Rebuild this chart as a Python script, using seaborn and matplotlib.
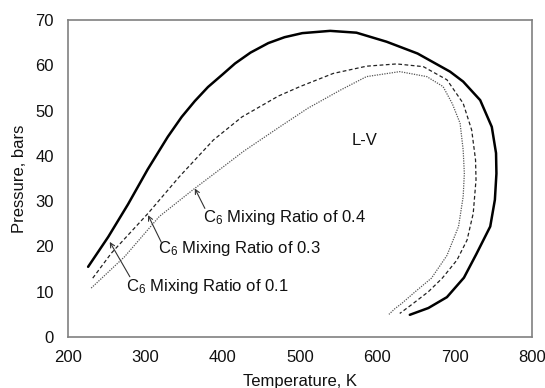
import matplotlib
matplotlib.use("Agg")
import matplotlib.pyplot as plt
import seaborn as sns
import pandas as pd

# Mixing ratio 0.1 (solid)
t_01 = [226, 252, 277.6, 303, 329, 347, 364, 381, 400, 416, 436, 459, 480, 503, 539, 573, 612, 652, 694, 711, 733, 748, 753.5, 754, 752, 746, 728, 712, 690, 666, 642]
p_01 = [15.5, 22.1, 29.3, 37.0, 44.2, 48.6, 52.1, 55.2, 58.0, 60.4, 62.8, 64.9, 66.2, 67.1, 67.6, 67.2, 65.2, 62.6, 58.6, 56.4, 52.3, 46.4, 40.6, 36.1, 30.3, 24.4, 18.3, 13.1, 8.8, 6.4, 4.9]
# Mixing ratio 0.3 (dashed)
t_03 = [232, 256, 303.5, 344, 388, 425, 472, 500, 543, 586, 625, 659.5, 690, 711, 722, 727, 727.6, 724, 716, 703, 684, 666, 644, 629]
p_03 = [13.0, 18.5, 27.3, 35.4, 43.5, 48.6, 53.2, 55.3, 58.2, 59.8, 60.3, 59.7, 56.8, 51.6, 45.7, 39.1, 34.7, 27.3, 21.4, 17.0, 13.0, 10.0, 7.1, 5.2]
# Mixing ratio 0.4 (dotted)
t_04 = [230, 273, 318, 363, 394, 427, 472, 510, 552, 586, 629, 664, 685, 697, 707, 711, 712.5, 711, 705, 690, 670, 649, 631.5, 623, 615]
p_04 = [10.8, 17.7, 26.6, 32.7, 36.7, 41.0, 46.2, 50.5, 54.5, 57.5, 58.6, 57.5, 55.3, 51.5, 47.2, 41.3, 36.1, 31.0, 24.4, 18.0, 13.0, 10.0, 7.4, 6.3, 5.0]

labels = ["C$_6$ Mixing Ratio of 0.1", "C$_6$ Mixing Ratio of 0.3", "C$_6$ Mixing Ratio of 0.4"]
text_pos = [(275, 11.1), (317, 19.6), (374, 26.3)]
arrow_tip = [(254, 21.0), (303.5, 26.9), (364, 32.8)]
arrow_tail = [(280, 13.3), (320.7, 20.9), (377, 28.4)]

x_ticks = [200, 300, 400, 500, 600, 700, 800]
y_ticks = [0, 10, 20, 30, 40, 50, 60, 70]

sns.set_theme(style="white")
plt.rcParams["font.family"] = ["Liberation Sans", "DejaVu Sans"]
plt.rcParams["mathtext.default"] = "regular"

fig = plt.figure(figsize=(5.45, 3.88), dpi=100)
ax = fig.add_axes([68/545, 1 - 337/388, (532-68)/545, (337-20)/388])

d1 = pd.DataFrame({"T": t_01, "P": p_01})
d3 = pd.DataFrame({"T": t_03, "P": p_03})
d4 = pd.DataFrame({"T": t_04, "P": p_04})
sns.lineplot(data=d1, x="T", y="P", sort=False, estimator=None, ax=ax, color="black", lw=1.8)
sns.lineplot(data=d3, x="T", y="P", sort=False, estimator=None, ax=ax, color="#222222", lw=0.9, linestyle=(0, (3, 2)))
sns.lineplot(data=d4, x="T", y="P", sort=False, estimator=None, ax=ax, color="#555555", lw=0.9, linestyle=(0, (1, 1)))

for lab, tp, tip, tail in zip(labels, text_pos, arrow_tip, arrow_tail):
    ax.text(tp[0], tp[1], lab, fontsize=12, color="#111111", va="center", ha="left")
    ax.annotate("", xy=tip, xytext=tail,
                arrowprops=dict(arrowstyle="->", color="#333333", lw=0.8, shrinkA=0, shrinkB=0, mutation_scale=8))

ax.text(584, 43.5, "L-V", fontsize=12, color="#111111", ha="center", va="center")

ax.set_xlim(200, 800)
ax.set_ylim(0, 70)
ax.set_xticks(x_ticks)
ax.set_yticks(y_ticks)
ax.tick_params(direction="in", length=4, width=1, color="#808080", labelsize=12, labelcolor="#111111")
ax.tick_params(axis="y", pad=10)
ax.tick_params(axis="x", pad=9)
for s in ax.spines.values():
    s.set_color("#808080")
    s.set_linewidth(1.2)
ax.set_xlabel("Temperature, K", fontsize=12, color="#111111", labelpad=7)
ax.set_ylabel("Pressure, bars", fontsize=12, color="#111111", labelpad=6)

fig.savefig("out.png", dpi=100)
